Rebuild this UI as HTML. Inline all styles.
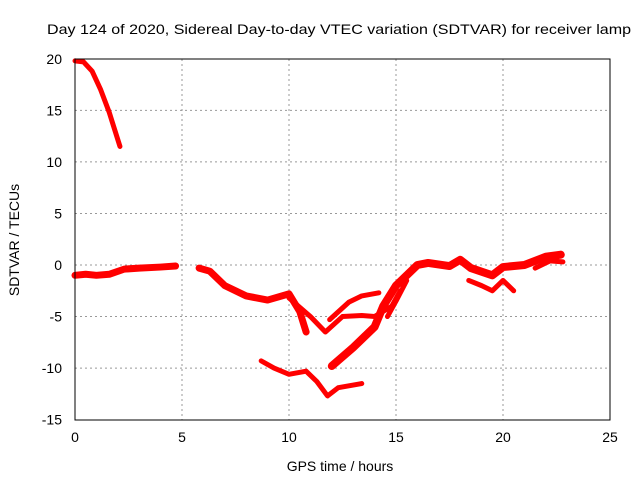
<!DOCTYPE html>
<html><head><meta charset="utf-8"><style>
body{margin:0;background:#fff}
svg text{font-family:"Liberation Sans",sans-serif;font-size:14px;fill:#000}
</style></head><body>
<svg id="chart" width="640" height="480" viewBox="0 0 640 480">
<text x="47" y="34" textLength="584" lengthAdjust="spacingAndGlyphs">Day 124 of 2020, Sidereal Day-to-day VTEC variation (SDTVAR) for receiver lamp</text>
<g id="grid"></g>
<g id="ticks"></g>
<g id="series"></g>
<rect x="75" y="59" width="535" height="361" fill="none" stroke="#000" stroke-width="1"/>
<text x="340" y="471" text-anchor="middle">GPS time / hours</text>
<text transform="translate(19,240) rotate(-90)" text-anchor="middle">SDTVAR / TECUs</text>
</svg>
<script>
const xTicks=[0,5,10,15,20,25];
const yTicks=[20,15,10,5,0,-5,-10,-15];
const arcH=[0,0.4,0.8,1.2,1.6,2.1];
const arcV=[19.8,19.7,18.8,17,14.8,11.5];
const earlyH=[0,0.5,1,1.6,2.3,3,4,4.7];
const earlyV=[-1,-0.9,-1,-0.9,-0.4,-0.3,-0.2,-0.1];
const midH=[5.8,6.3,7,8,9,10,10.5,10.8];
const midV=[-0.3,-0.6,-2,-3,-3.4,-2.8,-4.5,-6.5];
const branchH=[10,11,11.7,12.5,13.4,14,14.8,15.2];
const branchV=[-3.2,-5,-6.5,-5,-4.9,-5,-4,-2.5];
const upH=[11.9,12.8,13.4,14.2];
const upV=[-5.3,-3.6,-3,-2.7];
const lowH=[8.7,9.3,10,10.8,11.3,11.8,12.3,13.4];
const lowV=[-9.3,-10,-10.6,-10.3,-11.3,-12.7,-11.9,-11.5];
const riseH=[12,13,14,14.4,15,16,16.5,17.5,18,18.5,19.5,20,21,22,22.7];
const riseV=[-9.8,-8,-6,-4,-2,0,0.2,-0.1,0.5,-0.3,-1,-0.2,0,0.8,1];
const side1H=[14.6,15,15.5];
const side1V=[-5,-3.5,-1.5];
const dipH=[18.4,19,19.5,20,20.5];
const dipV=[-1.5,-2,-2.5,-1.5,-2.5];
const tailH=[21.5,22.2,22.8];
const tailV=[-0.3,0.4,0.3];
const X=h=>75+h*21.4, Y=v=>265-v*10.31;
const ns='http://www.w3.org/2000/svg';
const g=document.getElementById('grid'),t=document.getElementById('ticks'),s=document.getElementById('series');
function mk(tag,a,p){const e=document.createElementNS(ns,tag);for(const k in a)e.setAttribute(k,a[k]);p.appendChild(e);return e;}
xTicks.forEach(v=>{
 if(v>0&&v<25){const l=mk('line',{x1:X(v),x2:X(v),y1:59,y2:420,stroke:'#999','stroke-dasharray':'2,3'},g);
 
 }
 const tx=mk('text',{x:X(v),y:442,'text-anchor':'middle'},t);tx.textContent=v;
 
 
});
yTicks.forEach(v=>{
 if(v<20&&v>-15){const l=mk('line',{x1:75,x2:610,y1:Y(v),y2:Y(v),stroke:'#999','stroke-dasharray':'2,3'},g);
 
 }
 const tx=mk('text',{x:62,y:Y(v)+5,'text-anchor':'end'},t);tx.textContent=v;
 
 
});
const all=[[arcH,arcV,5],[earlyH,earlyV,7],[midH,midV,7],[branchH,branchV,5],[upH,upV,5],[lowH,lowV,5],[riseH,riseV,8],[side1H,side1V,5],[dipH,dipV,5],[tailH,tailV,5]];
all.forEach(([hs,vs,w])=>{
 const p=mk('polyline',{points:hs.map((h,i)=>X(h)+','+Y(vs[i])).join(' '),fill:'none',stroke:'#f00','stroke-width':w,'stroke-linejoin':'round','stroke-linecap':'round'},s);
 
 
});
</script>
</body></html>
